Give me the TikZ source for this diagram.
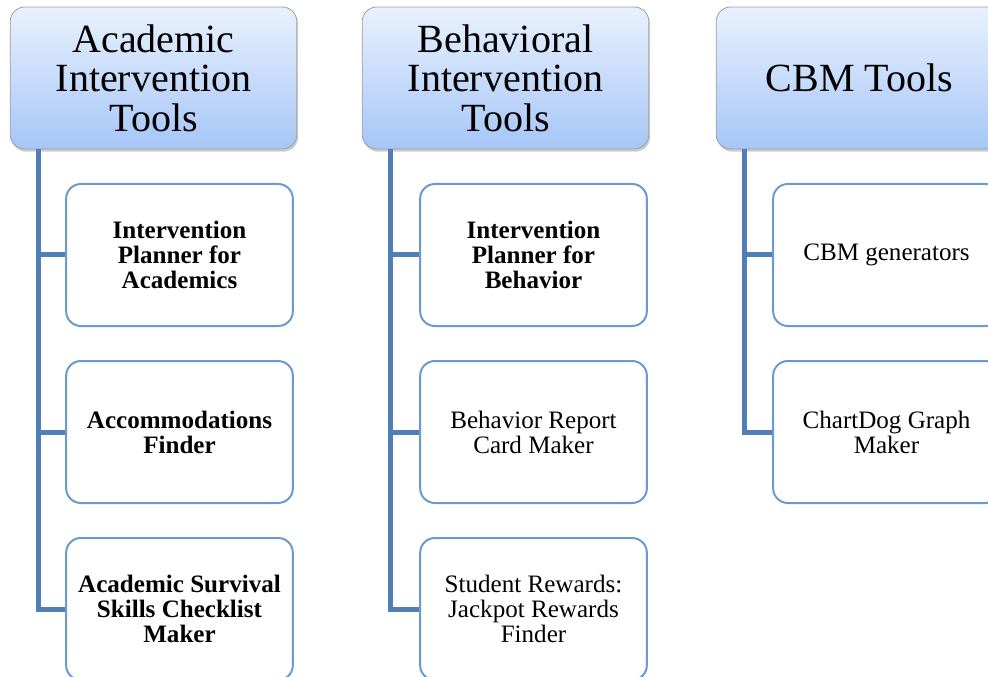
\documentclass[tikz,border=0pt]{standalone}
\usepackage{fontspec}
\setmainfont{Liberation Serif}
\usetikzlibrary{shadows}
\definecolor{trunkblue}{RGB}{80,126,181}
\definecolor{leafblue}{RGB}{108,154,208}
\definecolor{headtop}{RGB}{233,241,254}
\definecolor{headbottom}{RGB}{166,198,247}
\tikzset{
	headBox/.style={rectangle, rounded corners=11pt, draw=gray!75, line width=0.6pt,
		top color=headtop, bottom color=headbottom,
		minimum width=215pt, minimum height=106.5pt, align=center,
		font=\fontsize{30}{29.6}\selectfont,
		drop shadow={shadow xshift=1pt, shadow yshift=-2pt, opacity=0.4}},
	leafBox/.style={rectangle, rounded corners=11pt, draw=leafblue, line width=1.5pt,
		fill=white, minimum width=170pt, minimum height=106.5pt, align=center,
		font=\fontsize{18.8}{18.75}\selectfont},
	trunk/.style={draw=trunkblue, line width=3.75pt}
}
\newcommand{\drawTrunk}[2]{
	\coordinate (#1_T) at ([xshift=21.5pt]#1.south west);
	\draw[trunk] (#1_T) |- (#2.west);
}
\newcommand{\drawTwig}[2]{
	\draw[trunk] (#2.west) -- (#2.west -| #1_T);
}

\begin{document}
\begin{tikzpicture}[x=0.75pt, y=-0.75pt]
	\useasboundingbox (0,0) rectangle (988,677);
	\clip (0,0) rectangle (988,677);

	\node[headBox] (HA) at (153.5,78) {Academic\\Intervention\\Tools};
	\node[headBox] (HB) at (505.5,78) {Behavioral\\Intervention\\Tools};
	\node[headBox] (HC) at (859.5,78) {CBM Tools};

	\node[leafBox] (A1) at (179.5,255) {\textbf{Intervention}\\\textbf{Planner for}\\\textbf{Academics}};
	\node[leafBox] (A2) at (179.5,432) {\textbf{Accommodations}\\\textbf{Finder}};
	\node[leafBox] (A3) at (179.5,609) {\textbf{Academic Survival}\\\textbf{Skills Checklist}\\\textbf{Maker}};

	\node[leafBox] (B1) at (533.5,255) {\textbf{Intervention}\\\textbf{Planner for}\\\textbf{Behavior}};
	\node[leafBox] (B2) at (533.5,432) {Behavior Report\\Card Maker};
	\node[leafBox] (B3) at (533.5,609) {Student Rewards:\\Jackpot Rewards\\Finder};

	\node[leafBox] (C1) at (886.5,255) {CBM generators};
	\node[leafBox] (C2) at (886.5,432) {ChartDog Graph\\Maker};

	\drawTrunk{HA}{A3}
	\drawTwig{HA}{A1}
	\drawTwig{HA}{A2}
	\drawTrunk{HB}{B3}
	\drawTwig{HB}{B1}
	\drawTwig{HB}{B2}
	\drawTrunk{HC}{C2}
	\drawTwig{HC}{C1}
\end{tikzpicture}
\end{document}
